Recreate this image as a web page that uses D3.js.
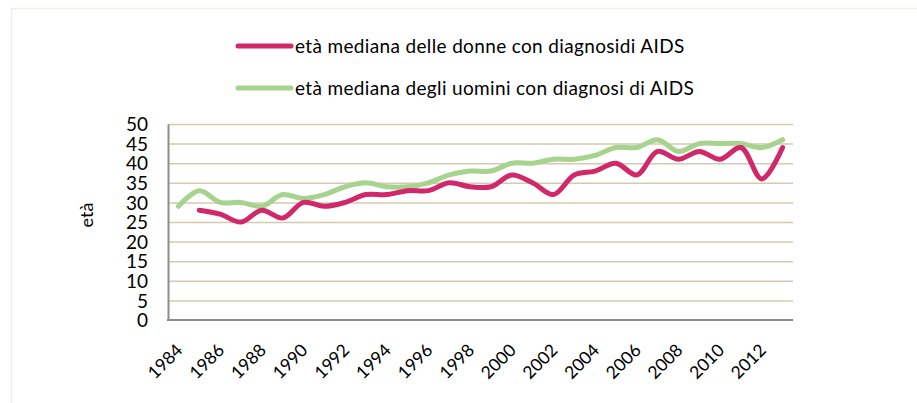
<!DOCTYPE html>
<html lang="it">
<head>
    <meta charset="UTF-8">
    <title>Età mediana alla diagnosi di AIDS</title>
    <script src="https://d3js.org/d3.v7.min.js"></script>
    <style>
        body { margin: 0; background: #fff; }
        text { font-family: Lato, "Open Sans", sans-serif; fill: #000; }
    </style>
</head>
<body>
<svg id="chart" width="917" height="403"></svg>
<script>
    // years on the x axis
    const years = d3.range(1984, 2014);
    // tick labels shown (every second year)
    const tickYears = [1984, 1986, 1988, 1990, 1992, 1994, 1996, 1998, 2000, 2002, 2004, 2006, 2008, 2010, 2012];
    const yTicks = [0, 5, 10, 15, 20, 25, 30, 35, 40, 45, 50];

    // median age of women with AIDS diagnosis (no value for 1984)
    const donne = [null, 28, 27, 25, 28, 26, 30, 29, 30, 32, 32, 33, 33, 35, 34, 34, 37, 35, 32, 37, 38, 40, 37, 43, 41, 43, 41, 44, 36, 44];
    // median age of men with AIDS diagnosis
    const uomini = [29, 33, 30, 30, 29, 32, 31, 32, 34, 35, 34, 34, 35, 37, 38, 38, 40, 40, 41, 41, 42, 44, 44, 46, 43, 45, 45, 45, 44, 46];

    const seriesNames = ["età mediana delle donne con diagnosidi AIDS", "età mediana degli uomini con diagnosi di AIDS"];
    const seriesColors = ["#d1286a", "#a6d48e"];

    const svg = d3.select("#chart");

    // faint outer frame
    svg.append("path")
        .attr("d", "M11.5,403 V8.5 H917")
        .attr("fill", "none")
        .attr("stroke", "#efede4")
        .attr("stroke-width", 1.5);

    const margin = { top: 124, left: 168, right: 793, bottom: 320 };

    const x = d3.scaleBand()
        .domain(years)
        .range([margin.left, margin.right]);

    const y = d3.scaleLinear()
        .domain([0, 50])
        .range([margin.bottom, margin.top]);

    // gridlines
    svg.append("g")
        .selectAll("line")
        .data(yTicks.filter(d => d > 0))
        .enter()
        .append("line")
        .attr("x1", margin.left)
        .attr("x2", margin.right)
        .attr("y1", d => y(d) + 0.5)
        .attr("y2", d => y(d) + 0.5)
        .attr("stroke", "#d3cbaf")
        .attr("stroke-width", 1.5);

    // y axis
    const yAxis = svg.append("g")
        .attr("transform", `translate(${margin.left},0)`)
        .call(d3.axisLeft(y).tickValues(yTicks).tickSize(0).tickPadding(20));
    yAxis.select(".domain")
        .attr("stroke", "#8c8c8c")
        .attr("stroke-width", 2);
    yAxis.selectAll("text")
        .style("font-size", "19px")
        .style("font-family", "Lato, sans-serif")
        .attr("dy", "0.35em");

    // x axis
    svg.append("line")
        .attr("x1", margin.left - 1)
        .attr("x2", margin.right)
        .attr("y1", margin.bottom)
        .attr("y2", margin.bottom)
        .attr("stroke", "#8c8c8c")
        .attr("stroke-width", 2);

    const xAxis = svg.append("g")
        .attr("transform", `translate(0,${margin.bottom})`)
        .call(d3.axisBottom(x).tickValues(tickYears).tickSize(0).tickFormat(d3.format("d")));
    xAxis.select(".domain").remove();
    xAxis.selectAll("text")
        .style("font-size", "17.5px")
        .style("font-family", "Lato, sans-serif")
        .attr("text-anchor", "end")
        .attr("transform", "translate(1,27) rotate(-45)")
        .attr("y", 0)
        .attr("dy", "0.35em");

    // y axis title
    svg.append("text")
        .attr("transform", "translate(93,215) rotate(-90)")
        .attr("text-anchor", "middle")
        .style("font-size", "18px")
        .text("età");

    // lines
    const line = d3.line()
        .defined(d => d[1] != null)
        .x(d => x(d[0]) + x.bandwidth() / 2)
        .y(d => y(d[1]))
        .curve(d3.curveCatmullRom.alpha(0.5));

    [uomini, donne].forEach((vals, i) => {
        svg.append("path")
            .datum(years.map((yr, j) => [yr, vals[j]]).filter(d => d[1] != null))
            .attr("fill", "none")
            .attr("stroke", i === 0 ? seriesColors[1] : seriesColors[0])
            .attr("stroke-width", 5)
            .attr("stroke-linecap", "round")
            .attr("stroke-linejoin", "round")
            .attr("d", line);
    });

    // legend
    const legend = svg.append("g");
    seriesNames.forEach((name, i) => {
        const ly = 46 + i * 42;
        legend.append("line")
            .attr("x1", 238)
            .attr("x2", 291)
            .attr("y1", ly)
            .attr("y2", ly)
            .attr("stroke", seriesColors[i])
            .attr("stroke-width", 5)
            .attr("stroke-linecap", "round");
        legend.append("text")
            .attr("x", 295)
            .attr("y", ly)
            .attr("dy", "0.35em")
            .style("font-size", "19px")
            .style("letter-spacing", "0.35px")
            .text(name);
    });
</script>
</body>
</html>
